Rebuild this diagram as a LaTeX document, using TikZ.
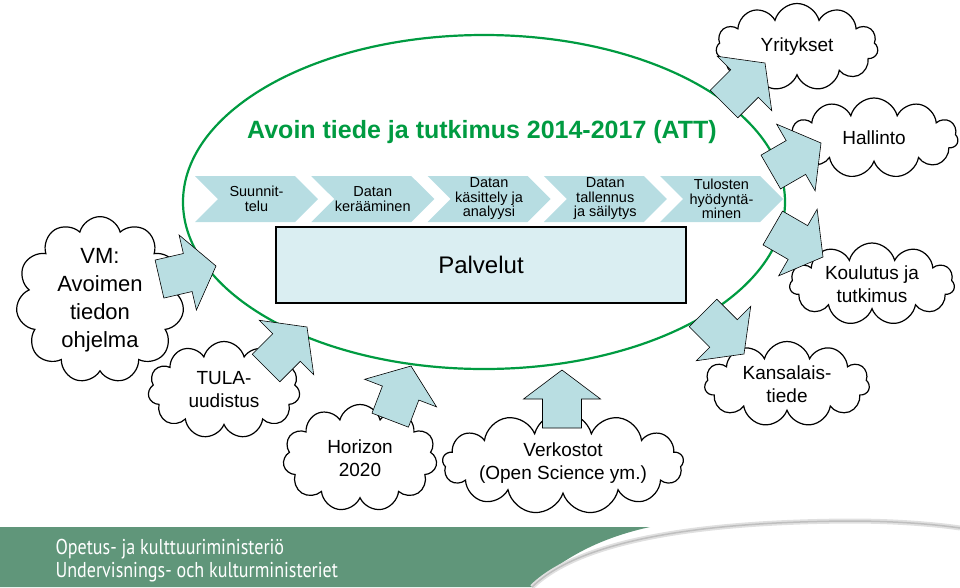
\documentclass[tikz,border=0pt]{standalone}
\usepackage{fontspec}
\setmainfont{Liberation Sans}
\newfontfamily\bannerfont[FakeStretch=0.84]{PT Sans}
\usepackage{tikz}
\definecolor{attgreen}{RGB}{0,155,65}
\definecolor{stepblue}{RGB}{183,221,226}
\definecolor{arrowblue}{RGB}{185,222,226}
\definecolor{boxblue}{RGB}{218,238,242}
\definecolor{okmgreen}{RGB}{96,150,122}
\usetikzlibrary{shapes.symbols,shapes.geometric}

\begin{document}
\begin{tikzpicture}[x=1pt, y=-1pt,
    stepbox/.style={signal, signal to=east, signal from=west, fill=stepblue,
        minimum width=123pt, minimum height=46pt, inner sep=0pt, align=center,
        font=\fontsize{14.5}{14.5}\selectfont},
    bubble/.style={cloud, cloud puffs=11, cloud ignores aspect, draw=black,
        line width=1.2pt, fill=white, align=center, inner sep=0pt,
        font=\fontsize{19}{23}\selectfont},
    flowarrow/.pic={\draw[fill=arrowblue, line width=0.6pt]
        (0,0) -- (-29,38.5) -- (-29,19.5) -- (-58,19.5) -- (-58,-19.5)
        -- (-29,-19.5) -- (-29,-38.5) -- cycle;}]
    \useasboundingbox (0,0) rectangle (960,587);

    % ATT ellipse and title
    \draw[attgreen, line width=2.2pt] (484,202) ellipse [x radius=301, y radius=167];
    \node[font=\fontsize{25}{28}\selectfont\bfseries, text=attgreen] (title) at (482,132)
        {Avoin tiede ja tutkimus 2014-2017 (ATT)};

    % process steps
    \foreach \txt [count=\i from 0] in {{Suunnit-\\telu}, {Datan\\kerääminen},
            {Datan\\käsittely ja\\analyysi}, {Datan\\tallennus\\ja säilytys},
            {Tulosten\\hyödyntä-\\minen}}
        \node[stepbox] (step\i) at ({256.5+116.25*\i},199) {\txt};

    \node[draw=black, line width=1.5pt, fill=boxblue, minimum width=410pt,
        minimum height=76pt, font=\fontsize{24}{28}\selectfont] (palvelut) at (481,265) {Palvelut};

    % clouds
    \node[bubble, minimum width=168pt, minimum height=152pt, font=\fontsize{22}{28}\selectfont]
        (vm) at (100,300) {VM:\\Avoimen\\tiedon\\ohjelma};
    \node[bubble, minimum width=152pt, minimum height=97pt] (tula) at (224,390) {TULA-\\uudistus};
    \node[bubble, minimum width=154pt, minimum height=107pt] (horizon) at (360,458) {Horizon\\2020};
    \node[bubble, minimum width=233pt, minimum height=102pt, cloud puffs=13] (verkostot) at (563,463)
        {Verkostot\\(Open Science ym.)};
    \node[bubble, minimum width=162pt, minimum height=87pt] (yritykset) at (797,47) {Yritykset};
    \node[bubble, minimum width=168pt, minimum height=80pt] (hallinto) at (874,138) {Hallinto};
    \node[bubble, minimum width=165pt, minimum height=82pt] (koulutus) at (872,284) {Koulutus ja\\tutkimus};
    \node[bubble, minimum width=165pt, minimum height=85pt] (kansalais) at (787,384) {Kansalais-\\tiede};

    % arrows
    \pic[rotate=13] at (216,266) {flowarrow};
    \pic[rotate=45] at (307,327) {flowarrow};
    \pic[rotate=69] at (411,366) {flowarrow};
    \pic[rotate=90] at (562,370) {flowarrow};
    \pic[rotate=-45] at (744,354) {flowarrow};
    \pic[rotate=-30] at (823,257) {flowarrow};
    \pic[rotate=30] at (821,143) {flowarrow};
    \pic[rotate=45] at (765,63) {flowarrow};

    % banner
    \fill[okmgreen] (0,527) -- (650,527) .. controls (590,540) and (555,565) .. (532,587)
        -- (0,587) -- cycle;
    \draw[black!12, line width=5pt] (532,587) .. controls (575,545) and (680,522) .. (850,521)
        .. controls (900,521) and (940,525) .. (960,528);
    \draw[black!25, line width=1.5pt] (532,587) .. controls (575,545) and (680,522) .. (850,521)
        .. controls (900,521) and (940,525) .. (960,528);
    \node[anchor=west, text=white, font=\bannerfont\fontsize{21.5}{23}\selectfont] (okm1) at (52,549)
        {Opetus- ja kulttuuriministeriö};
    \node[anchor=west, text=white, font=\bannerfont\fontsize{21.5}{23}\selectfont] (okm2) at (52,572)
        {Undervisnings- och kulturministeriet};
\end{tikzpicture}
\end{document}
